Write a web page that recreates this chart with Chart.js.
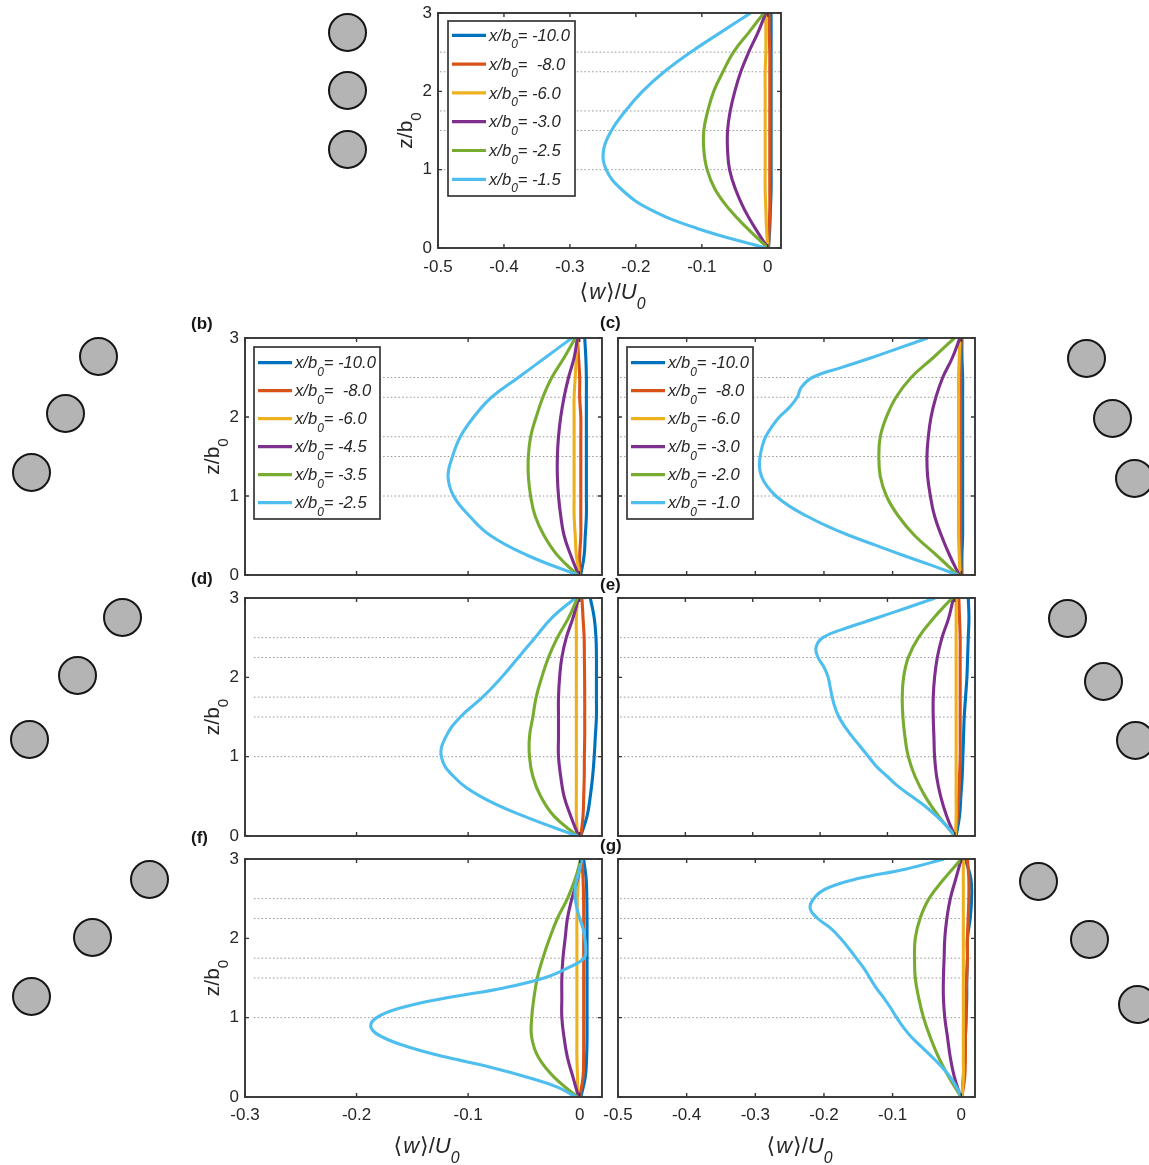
<!DOCTYPE html>
<html>
<head>
<meta charset="utf-8">
<title>Vertical velocity profiles</title>
<script src="https://cdn.jsdelivr.net/npm/chart.js@4.4.1/dist/chart.umd.min.js"></script>
<style>
  html, body { margin: 0; padding: 0; background: #fff; }
  #fig { position: relative; width: 1149px; height: 1165px; overflow: hidden; background: #fff; }
  #fig canvas { position: absolute; }
  .cyl { position: absolute; border-radius: 50%; background: #b4b4b4; border: 2px solid #161616; box-sizing: border-box; }
  .tag { position: absolute; font: bold 17px "Liberation Sans", Arial, sans-serif; color: #161616; line-height: 17px; }
</style>
</head>
<body>
<div id="fig"></div>
<script>
// ---------- data ----------
// heights z/b0 at which the profiles are sampled
const zLevels = [0, 0.25, 0.5, 0.75, 1, 1.25, 1.5, 1.75, 2, 2.25, 2.5, 2.75, 3];
const zFine = [0, 0.125, 0.25, 0.375, 0.5, 0.625, 0.75, 0.875, 1, 1.125, 1.25, 1.375, 1.5,
               1.625, 1.75, 1.875, 2, 2.125, 2.25, 2.375, 2.5, 2.625, 2.75, 2.875, 3];
// dotted reference heights
const guideZ = [1, 1.5, 1.75, 2.25, 2.5];

// legend entries x/b0 (as printed)
const legendA = ['-10.0', ' -8.0', '-6.0', '-3.0', '-2.5', '-1.5'];
const legendB = ['-10.0', ' -8.0', '-6.0', '-4.5', '-3.5', '-2.5'];
const legendC = ['-10.0', ' -8.0', '-6.0', '-3.0', '-2.0', '-1.0'];

// tick labels
const xTicksWide = [-0.5, -0.4, -0.3, -0.2, -0.1, 0];
const xTicksNarrow = [-0.3, -0.2, -0.1, 0];
const zTicks = [0, 1, 2, 3];

// <w>/U0 profiles, panel (a)
const aBlue   = [0.001, 0.003, 0.004, 0.005, 0.005, 0.005, 0.005, 0.005, 0.005, 0.005, 0.005, 0.005, 0.005];
const aOrange = [0.001, 0.002, 0.003, 0.003, 0.003, 0.003, 0.003, 0.003, 0.003, 0.003, 0.003, 0.002, 0.002];
const aYellow = [0, -0.002, -0.003, -0.004, -0.004, -0.004, -0.004, -0.004, -0.004, -0.004, -0.003, -0.003, -0.003];
const aPurple = [0, -0.019, -0.036, -0.049, -0.058, -0.061, -0.061, -0.057, -0.050, -0.041, -0.029, -0.015, -0.003];
const aGreen  = [0, -0.031, -0.059, -0.080, -0.092, -0.097, -0.097, -0.091, -0.082, -0.068, -0.052, -0.029, -0.006];
const aCyan   = [-0.003, -0.107, -0.180, -0.222, -0.245, -0.249, -0.237, -0.216, -0.190, -0.157, -0.117, -0.072, -0.026];

// panel (b)
const bBlue   = [0.001, 0.004, 0.005, 0.006, 0.006, 0.006, 0.006, 0.006, 0.006, 0.006, 0.006, 0.0055, 0.0045];
const bOrange = [0, 0.000, 0.001, 0.001, 0.001, 0.001, 0.001, 0.001, 0.001, 0.000, 0.000, -0.001, -0.002];
const bYellow = [0, -0.003, -0.004, -0.005, -0.005, -0.005, -0.005, -0.005, -0.005, -0.005, -0.004, -0.003, -0.002];
const bPurple = [-0.001, -0.008, -0.014, -0.017, -0.019, -0.020, -0.020, -0.019, -0.017, -0.014, -0.010, -0.005, -0.002];
const bGreen  = [-0.002, -0.020, -0.032, -0.040, -0.044, -0.046, -0.046, -0.044, -0.039, -0.033, -0.025, -0.014, -0.004];
const bCyan   = [-0.002, -0.047, -0.080, -0.099, -0.113, -0.118, -0.114, -0.107, -0.095, -0.079, -0.055, -0.031, -0.007];

// panel (c)
const cBlue   = [0.001, 0.001, 0.002, 0.002, 0.002, 0.002, 0.002, 0.002, 0.002, 0.002, 0.002, 0.001, 0.001];
const cOrange = [0, -0.001, -0.001, -0.001, -0.001, -0.001, -0.001, -0.001, -0.001, -0.001, -0.001, -0.001, 0];
const cYellow = [-0.002, -0.003, -0.004, -0.004, -0.004, -0.004, -0.004, -0.004, -0.004, -0.004, -0.004, -0.003, -0.002];
const cPurple = [-0.003, -0.017, -0.029, -0.039, -0.045, -0.049, -0.050, -0.048, -0.044, -0.037, -0.027, -0.013, -0.002];
const cGreen  = [-0.005, -0.036, -0.068, -0.092, -0.109, -0.118, -0.120, -0.118, -0.109, -0.095, -0.073, -0.041, -0.010];
const cCyan   = [-0.005, -0.044, -0.085, -0.124, -0.163, -0.197, -0.226, -0.251, -0.270, -0.283, -0.291, -0.294, -0.293,
                 -0.290, -0.285, -0.276, -0.265, -0.250, -0.239, -0.233, -0.217, -0.175, -0.131, -0.090, -0.049];

// panel (d)
const dBlue   = [0.001, 0.0066, 0.0095, 0.0116, 0.013, 0.014, 0.015, 0.015, 0.015, 0.015, 0.0146, 0.013, 0.0095];
const dOrange = [0.001, 0.003, 0.0036, 0.0041, 0.0042, 0.0045, 0.0045, 0.0045, 0.0044, 0.0042, 0.004, 0.003, 0.002];
const dYellow = [-0.002, -0.003, -0.003, -0.003, -0.003, -0.003, -0.003, -0.003, -0.003, -0.003, -0.003, -0.003, -0.002];
const dPurple = [-0.001, -0.008, -0.014, -0.017, -0.019, -0.019, -0.019, -0.019, -0.018, -0.016, -0.012, -0.006, -0.001];
const dGreen  = [-0.002, -0.023, -0.035, -0.042, -0.045, -0.045, -0.042, -0.039, -0.034, -0.028, -0.020, -0.010, -0.002];
const dCyan   = [-0.002, -0.050, -0.089, -0.113, -0.124, -0.120, -0.107, -0.087, -0.070, -0.055, -0.040, -0.025, -0.004];

// panel (e)
const eBlue   = [0.002, 0.007, 0.009, 0.011, 0.012, 0.013, 0.014, 0.016, 0.018, 0.019, 0.020, 0.021, 0.020];
const eOrange = [0.001, 0.004, 0.006, 0.007, 0.008, 0.008, 0.008, 0.008, 0.008, 0.008, 0.008, 0.007, 0.006];
const eYellow = [0.001, 0.002, 0.002, 0.002, 0.002, 0.002, 0.002, 0.002, 0.002, 0.002, 0.002, 0.002, 0.002];
const ePurple = [0, -0.012, -0.021, -0.027, -0.030, -0.031, -0.032, -0.032, -0.030, -0.026, -0.019, -0.009, -0.002];
const eGreen  = [0, -0.024, -0.044, -0.059, -0.069, -0.074, -0.077, -0.078, -0.076, -0.069, -0.054, -0.031, -0.004];
const eCyan   = [0, -0.012, -0.027, -0.044, -0.064, -0.084, -0.100, -0.116, -0.128, -0.140, -0.152, -0.163, -0.172,
                 -0.178, -0.182, -0.185, -0.188, -0.194, -0.203, -0.206, -0.196, -0.160, -0.115, -0.072, -0.029];

// panel (f)
const fBlue   = [0.001, 0.005, 0.0062, 0.0066, 0.0066, 0.0066, 0.0066, 0.0066, 0.0066, 0.0066, 0.0064, 0.0058, 0.0035];
const fOrange = [0, 0.003, 0.0035, 0.0036, 0.0036, 0.0036, 0.0036, 0.0036, 0.0036, 0.0036, 0.0035, 0.003, 0.002];
const fYellow = [-0.002, -0.002, -0.0025, -0.0025, -0.0025, -0.0025, -0.0025, -0.0025, -0.0025, -0.0025, -0.002, -0.001, 0.001];
const fPurple = [-0.001, -0.006, -0.011, -0.014, -0.016, -0.016, -0.016, -0.015, -0.013, -0.011, -0.007, -0.002, 0.001];
const fGreen  = [-0.002, -0.023, -0.037, -0.043, -0.043, -0.041, -0.038, -0.033, -0.027, -0.020, -0.011, -0.004, 0.001];
const fCyan   = [-0.003, -0.020, -0.047, -0.080, -0.119, -0.152, -0.176, -0.187, -0.182, -0.160, -0.119, -0.068, -0.032,
                 -0.011, 0.004, 0.0054, 0.0045, 0.003, 0, -0.0024, -0.004, -0.004, -0.0024, 0, 0.002];

// panel (g)
const gBlue   = [0.001, 0.003, 0.005, 0.006, 0.007, 0.008, 0.008, 0.009, 0.009, 0.013, 0.015, 0.014, 0.006];
const gOrange = [0.001, 0.005, 0.006, 0.006, 0.007, 0.007, 0.008, 0.009, 0.009, 0.010, 0.011, 0.011, 0.009];
const gYellow = [0.001, 0.003, 0.003, 0.003, 0.003, 0.003, 0.003, 0.003, 0.003, 0.003, 0.003, 0.003, 0.003];
const gPurple = [-0.001, -0.010, -0.016, -0.020, -0.024, -0.026, -0.026, -0.025, -0.024, -0.021, -0.016, -0.008, 0];
const gGreen  = [0, -0.018, -0.033, -0.045, -0.055, -0.062, -0.067, -0.068, -0.067, -0.060, -0.047, -0.025, 0];
const gCyan   = [0, -0.007, -0.016, -0.028, -0.042, -0.057, -0.072, -0.084, -0.094, -0.103, -0.113, -0.124, -0.133,
                 -0.142, -0.153, -0.164, -0.176, -0.190, -0.209, -0.220, -0.215, -0.197, -0.152, -0.080, -0.025];

// ---------- styling and layout ----------
const seriesColors = ['#0072BD', '#D95319', '#EDB120', '#7E2F8E', '#77AC30', '#4DBEEE'];
const FONT = '"Liberation Sans", Arial, "DejaVu Sans", sans-serif';
const INK = '#262626';
const FRAME = '#363636';
const Y_W = 60, X_H = 72, PAD_T = 10, PAD_R = 12, TICK = 4;

const std = [zLevels, zLevels, zLevels, zLevels, zLevels, zFine];
const coarse = [zLevels, zLevels, zLevels, zLevels, zLevels, zLevels];

const panels = [
  { area: [438, 13, 781, 248], xMin: -0.5, xMax: 0.02, xTicks: xTicksWide,
    series: [aBlue, aOrange, aYellow, aPurple, aGreen, aCyan], zs: coarse,
    legend: legendA, legendBox: { dx: 10, dy: 8, w: 127, h: 175, first: 14.3, gap: 28.8 },
    xLabels: true, yLabels: true, xPad: 9.5, xTitle: 51, guide: [-0.497, 0.018] },
  { area: [245, 338, 602, 575], xMin: -0.3, xMax: 0.02, xTicks: xTicksNarrow,
    series: [bBlue, bOrange, bYellow, bPurple, bGreen, bCyan], zs: coarse,
    legend: legendB, legendBox: { dx: 9, dy: 9, w: 126, h: 172, first: 15.6, gap: 28 },
    xLabels: false, yLabels: true, guide: [-0.292, 0.02] },
  { area: [618, 338, 975, 575], xMin: -0.5, xMax: 0.02, xTicks: xTicksWide,
    series: [cBlue, cOrange, cYellow, cPurple, cGreen, cCyan], zs: std,
    legend: legendC, legendBox: { dx: 9, dy: 9, w: 126, h: 172, first: 15.6, gap: 28 },
    xLabels: false, yLabels: false, guide: [-0.497, 0.017] },
  { area: [245, 598, 602, 836], xMin: -0.3, xMax: 0.02, xTicks: xTicksNarrow,
    series: [dBlue, dOrange, dYellow, dPurple, dGreen, dCyan], zs: coarse,
    xLabels: false, yLabels: true, guide: [-0.292, 0.02] },
  { area: [618, 598, 975, 836], xMin: -0.5, xMax: 0.03, xTicks: xTicksWide,
    series: [eBlue, eOrange, eYellow, ePurple, eGreen, eCyan], zs: std,
    xLabels: false, yLabels: false, guide: [-0.497, 0.025] },
  { area: [245, 859, 602, 1097], xMin: -0.3, xMax: 0.02, xTicks: xTicksNarrow,
    series: [fBlue, fOrange, fYellow, fPurple, fGreen, fCyan], zs: std,
    xLabels: true, yLabels: true, xPad: 8, xTitle: 56, guide: [-0.292, 0.02] },
  { area: [618, 859, 975, 1097], xMin: -0.5, xMax: 0.02, xTicks: xTicksWide,
    series: [gBlue, gOrange, gYellow, gPurple, gGreen, gCyan], zs: std,
    xLabels: true, yLabels: false, xPad: 8, xTitle: 56, guide: [-0.497, 0.017] }
];

const panelTags = [
  { t: '(b)', x: 191, y: 315 }, { t: '(c)', x: 600, y: 314 },
  { t: '(d)', x: 191, y: 570 }, { t: '(e)', x: 600, y: 576 },
  { t: '(f)', x: 191, y: 829 }, { t: '(g)', x: 600, y: 837 }
];

// cylinder arrangement sketches beside each panel (centre x, centre y)
const cylinderCentres = [
  [347.7, 32.7], [347.7, 90.7], [347.7, 149.3],
  [98.3, 356.7], [65.3, 413.3], [31, 472],
  [122.3, 617.3], [77.7, 675.5], [29.3, 739.2],
  [149, 879.5], [92.7, 937.6], [31, 996.3],
  [1086.3, 358.3], [1112, 418], [1134.3, 478.6],
  [1067.7, 618.4], [1103.7, 681.6], [1135.7, 740.2],
  [1038.3, 881], [1089.7, 939.7], [1137.7, 1004]
];
const CYL_R = 19.5;

// ---------- helpers ----------
function fmtTick(v) {
  if (Math.abs(v) < 1e-9) return '0';
  return Number.isInteger(v) ? String(v) : v.toFixed(1);
}

// draw text made of runs; sub runs are lowered and reduced
function richWidth(ctx, parts, size) {
  let w = 0;
  for (const p of parts) {
    ctx.font = (p.it ? 'italic ' : '') + (p.sub ? size * 0.72 : size) + 'px ' + FONT;
    w += ctx.measureText(p.t).width + (p.gap || 0);
  }
  return w;
}
function drawRich(ctx, parts, x, y, size) {
  let cx = x;
  for (const p of parts) {
    ctx.font = (p.it ? 'italic ' : '') + (p.sub ? size * 0.72 : size) + 'px ' + FONT;
    ctx.fillText(p.t, cx, y + (p.sub ? size * 0.45 : 0));
    cx += ctx.measureText(p.t).width + (p.gap || 0);
  }
}

const xTitleParts = [
  { t: '\u27E8', gap: 1 }, { t: 'w', it: 1, gap: 1 }, { t: '\u27E9' }, { t: '/' }, { t: 'U', it: 1 }, { t: '0', it: 1, sub: 1 }
];
const yTitleParts = [{ t: 'z/b' }, { t: '0', sub: 1 }];

function makeFrame(p) {
  return {
    id: 'panelFrame',
    afterDraw(chart) {
      const { ctx, chartArea: a, scales: { x, y } } = chart;
      ctx.save();
      // axes box with inward ticks on all four sides
      ctx.strokeStyle = FRAME;
      ctx.lineWidth = 1.9;
      ctx.strokeRect(a.left, a.top, a.right - a.left, a.bottom - a.top);
      ctx.lineWidth = 1.4;
      ctx.beginPath();
      x.ticks.forEach(t => {
        const px = x.getPixelForValue(t.value);
        ctx.moveTo(px, a.bottom); ctx.lineTo(px, a.bottom - TICK);
        ctx.moveTo(px, a.top); ctx.lineTo(px, a.top + TICK);
      });
      y.ticks.forEach(t => {
        const py = y.getPixelForValue(t.value);
        ctx.moveTo(a.left, py); ctx.lineTo(a.left + TICK, py);
        ctx.moveTo(a.right, py); ctx.lineTo(a.right - TICK, py);
      });
      ctx.stroke();

      // legend
      if (p.legend) {
        const L = p.legendBox;
        const x0 = a.left + L.dx, y0 = a.top + L.dy;
        ctx.fillStyle = '#fff';
        ctx.fillRect(x0, y0, L.w, L.h);
        ctx.strokeStyle = FRAME;
        ctx.lineWidth = 1.7;
        ctx.strokeRect(x0, y0, L.w, L.h);
        chart.data.datasets.filter(d => d.legendText).forEach((d, i) => {
          const ry = y0 + L.first + i * L.gap;
          ctx.strokeStyle = d.borderColor;
          ctx.lineWidth = 3.2;
          ctx.beginPath();
          ctx.moveTo(x0 + 4, ry); ctx.lineTo(x0 + 38, ry);
          ctx.stroke();
          ctx.fillStyle = INK;
          ctx.textBaseline = 'alphabetic';
          ctx.textAlign = 'left';
          drawRich(ctx, [{ t: 'x/b', it: 1 }, { t: '0', it: 1, sub: 1 }, { t: '= ' + d.legendText, it: 1 }],
                   x0 + 41, ry + 5.7, 16.6);
        });
      }

      // axis titles
      ctx.fillStyle = INK;
      ctx.textBaseline = 'alphabetic';
      ctx.textAlign = 'left';
      if (p.xTitle) {
        const w = richWidth(ctx, xTitleParts, 22);
        drawRich(ctx, xTitleParts, (a.left + a.right) / 2 - w / 2 + 3, a.bottom + p.xTitle, 22);
      }
      if (p.yLabels) {
        const w = richWidth(ctx, yTitleParts, 21);
        ctx.translate(a.left - 26, (a.top + a.bottom) / 2);
        ctx.rotate(-Math.PI / 2);
        drawRich(ctx, yTitleParts, -w / 2, 0, 21);
      }
      ctx.restore();
    }
  };
}

// ---------- build ----------
const fig = document.getElementById('fig');

panels.forEach(p => {
  const [l, t, r, b] = p.area;
  const W = r - l + Y_W + PAD_R;
  const H = b - t + PAD_T + X_H;
  const canvas = document.createElement('canvas');
  canvas.width = W; canvas.height = H;
  canvas.style.left = (l - Y_W) + 'px';
  canvas.style.top = (t - PAD_T) + 'px';
  canvas.style.width = W + 'px';
  canvas.style.height = H + 'px';
  fig.appendChild(canvas);

  const datasets = [];
  p.series.forEach((vals, i) => {
    const zs = p.zs[i];
    datasets.push({
      label: p.legend ? 'x/b0= ' + p.legend[i].trim() : 'profile ' + (i + 1),
      legendText: p.legend ? p.legend[i] : null,
      data: vals.map((w, k) => ({ x: w, y: zs[k] })),
      showLine: true,
      borderColor: seriesColors[i],
      borderWidth: 3.1,
      pointRadius: 0,
      tension: 0.42,
      fill: false,
      order: 6 - i
    });
  });
  guideZ.forEach(z => {
    datasets.push({
      label: 'z = ' + z,
      data: [{ x: p.guide[0], y: z }, { x: p.guide[1], y: z }],
      showLine: true,
      borderColor: '#9a9a9a',
      borderWidth: 1,
      borderDash: [1.6, 2.2],
      pointRadius: 0,
      tension: 0,
      order: 20
    });
  });

  new Chart(canvas, {
    type: 'scatter',
    data: { datasets },
    options: {
      responsive: false,
      maintainAspectRatio: false,
      devicePixelRatio: 1,
      animation: false,
      events: [],
      layout: { padding: { top: PAD_T, right: PAD_R, left: 0, bottom: 0 } },
      plugins: { legend: { display: false }, tooltip: { enabled: false }, title: { display: false } },
      scales: {
        x: {
          type: 'linear', position: 'bottom',
          min: p.xMin, max: p.xMax,
          grid: { display: false, drawTicks: false },
          border: { display: false },
          afterBuildTicks: s => { s.ticks = p.xTicks.map(v => ({ value: v })); },
          ticks: {
            display: p.xLabels, padding: p.xPad || 8, color: INK, maxRotation: 0, autoSkip: false,
            font: { family: FONT, size: 17 },
            callback: v => fmtTick(v)
          },
          afterFit: s => { s.height = X_H; s.paddingLeft = 0; s.paddingRight = 0; }
        },
        y: {
          type: 'linear', position: 'left',
          min: 0, max: 3,
          grid: { display: false, drawTicks: false },
          border: { display: false },
          afterBuildTicks: s => { s.ticks = zTicks.map(v => ({ value: v })); },
          ticks: {
            display: p.yLabels, padding: 6, color: INK, autoSkip: false,
            font: { family: FONT, size: 17 },
            callback: v => fmtTick(v)
          },
          afterFit: s => { s.width = Y_W; s.paddingTop = 0; s.paddingBottom = 0; }
        }
      }
    },
    plugins: [makeFrame(p)]
  });
});

// panel tags
panelTags.forEach(tg => {
  const d = document.createElement('div');
  d.className = 'tag';
  d.textContent = tg.t;
  d.style.left = tg.x + 'px';
  d.style.top = tg.y + 'px';
  fig.appendChild(d);
});

// cylinder sketches
cylinderCentres.forEach(([cx, cy]) => {
  const d = document.createElement('div');
  d.className = 'cyl';
  d.style.left = (cx - CYL_R) + 'px';
  d.style.top = (cy - CYL_R) + 'px';
  d.style.width = (2 * CYL_R) + 'px';
  d.style.height = (2 * CYL_R) + 'px';
  fig.appendChild(d);
});
</script>
</body>
</html>
